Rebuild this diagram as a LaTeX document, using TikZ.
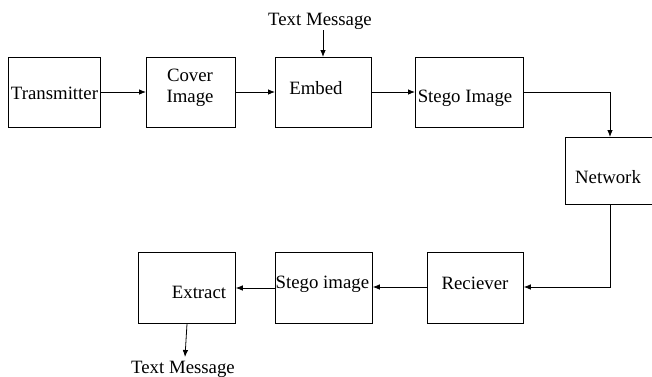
\documentclass[tikz,border=0pt]{standalone}
\usepackage{fontspec}
\setmainfont{Liberation Serif}
\usetikzlibrary{arrows.meta}
\begin{document}
\begin{tikzpicture}[x=1pt,y=-1pt,
  box/.style={draw, line width=0.8pt, inner sep=0pt, anchor=north west},
  lbl/.style={inner sep=0pt, font=\fontsize{18.8}{21}\selectfont, align=center},
  conn/.style={line width=0.8pt, -{Latex[length=7pt,width=5.5pt]}}]
\clip (0,0) rectangle (652,376);
\fill[white] (0,0) rectangle (652,376);
% boxes
\node[box, minimum width=92pt, minimum height=70pt] (tx) at (8,57) {};
\node[box, minimum width=89pt, minimum height=70pt] (cov) at (146,57) {};
\node[box, minimum width=96pt, minimum height=70pt] (emb) at (275,57) {};
\node[box, minimum width=108pt, minimum height=70pt] (stg) at (415,57) {};
\node[box, minimum width=100pt, minimum height=67pt] (net) at (565,137) {};
\node[box, minimum width=96pt, minimum height=71pt] (rec) at (427,252) {};
\node[box, minimum width=97pt, minimum height=71pt] (stg2) at (275,252) {};
\node[box, minimum width=97pt, minimum height=71pt] (ext) at (138,252) {};
% texts
\node[lbl] (ttx) at (54.5,93) {Transmitter};
\node[lbl] (tcov) at (190,88) {Cover\\Image};
\node[lbl] (temb) at (316,88) {Embed};
\node[lbl] (tstg) at (465,98) {Stego Image};
\node[lbl] (tnet) at (608,177) {Network};
\node[lbl] (trec) at (475,283) {Reciever};
\node[lbl, anchor=west] (tstg2) at (275.5,284) {Stego image};
\node[lbl] (text) at (199,292) {Extract};
\node[lbl] (msg1) at (320,21) {Text Message};
\node[lbl] (msg2) at (183,369) {Text Message};
% connectors
\draw[conn] (tx.east |- 0,92) -- (cov.west |- 0,92);
\draw[conn] (cov.east |- 0,92) -- (emb.west |- 0,92);
\draw[conn] (emb.east |- 0,92) -- (stg.west |- 0,92);
\draw[conn] (stg.east |- 0,92) -| (net.north -| 610,0);
\draw[conn] (net.south -| 610,0) |- (rec.east |- 0,287);
\draw[conn] (rec.west |- 0,287) -- (stg2.east |- 0,287);
\draw[conn] (stg2.west |- 0,288) -- (ext.east |- 0,288);
\draw[conn] (msg1.south -| 323,0) ++(0,1) -- (emb.north -| 323,0);
\coordinate (m2top) at (185,357);
\draw[conn] (ext.south -| 187,0) -- (m2top);
\end{tikzpicture}
\end{document}
